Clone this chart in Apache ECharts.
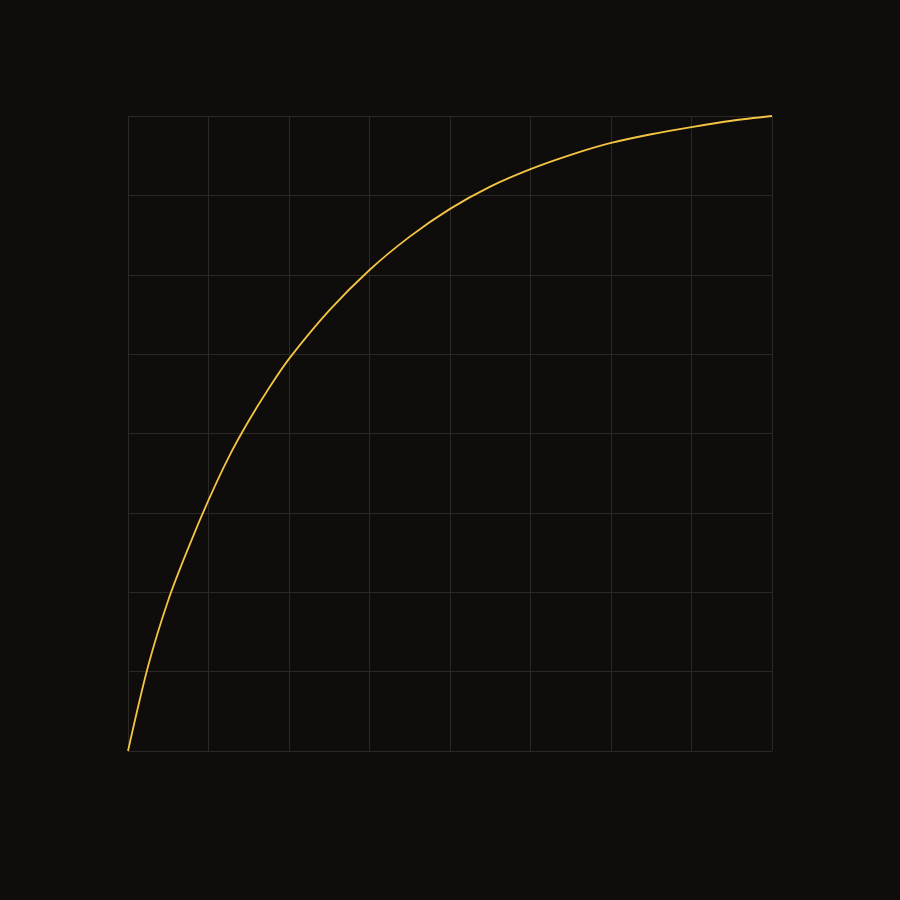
<!DOCTYPE html>
<html>
<head>
<meta charset="utf-8">
<script src="https://cdn.jsdelivr.net/npm/echarts@6/dist/echarts.min.js"></script>
<style>
  html, body { margin: 0; padding: 0; background: #0f0d0b; }
  #chart-container { width: 900px; height: 900px; }
</style>
</head>
<body>
<div id="chart-container"></div>
<script>
// curve points (grid units, 8 x 8)
var xValues = [0, 0.25, 0.5, 0.75, 1.0, 1.25, 1.5, 1.75, 2.0, 2.5, 3.0, 3.5, 4.0, 4.5, 5.0, 5.5, 6.0, 6.5, 7.0, 7.5, 8.0];
var yValues = [0, 1.07, 1.9, 2.56, 3.16, 3.7, 4.16, 4.57, 4.94, 5.55, 6.06, 6.48, 6.83, 7.11, 7.33, 7.51, 7.66, 7.77, 7.86, 7.94, 8.0];
var axisMin = 0;
var axisMax = 8;
var step = 1;

var dom = document.getElementById('chart-container');
var myChart = echarts.init(dom, null, { renderer: 'canvas' });

var points = xValues.map(function (x, i) { return [x, yValues[i]]; });

var hiddenAxis = {
    type: 'value',
    min: axisMin,
    max: axisMax,
    interval: step,
    axisLine: { show: false },
    axisTick: { show: false },
    axisLabel: { show: false },
    splitLine: { show: true, lineStyle: { color: '#2b2926', width: 1 } }
};

var option = {
    backgroundColor: '#0f0d0b',
    animation: false,
    grid: { left: 128, right: 128, top: 116, bottom: 149 },
    xAxis: hiddenAxis,
    yAxis: Object.assign({}, hiddenAxis),
    series: [
        {
            type: 'line',
            data: points,
            smooth: 0.3,
            showSymbol: false,
            lineStyle: { color: '#f4c443', width: 1.8 }
        }
    ]
};

myChart.setOption(option);
window.addEventListener('resize', myChart.resize);
</script>
</body>
</html>
